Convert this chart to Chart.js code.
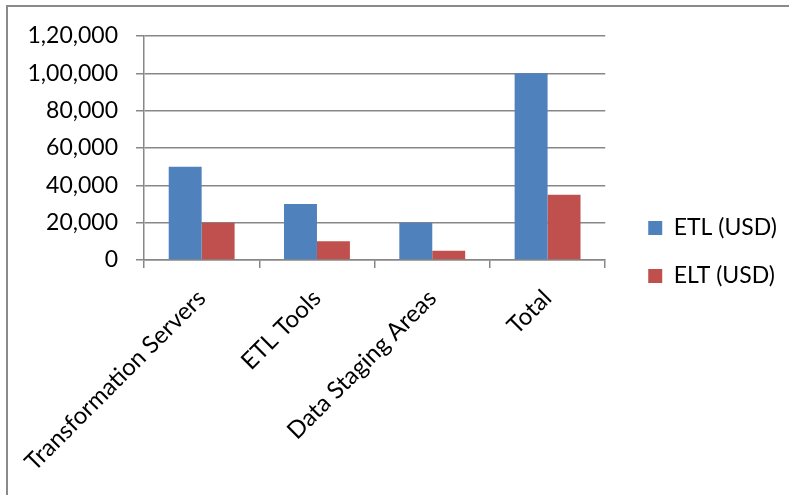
<!DOCTYPE html>
<html>
<head>
<meta charset="utf-8">
<script src="https://cdn.jsdelivr.net/npm/chart.js@4/dist/chart.umd.min.js"></script>
<style>
    html, body { margin: 0; padding: 0; background: #fff; overflow: hidden; }
    #wrap { position: relative; width: 789px; height: 495px; }
    #frame {
        position: absolute; left: 6px; top: 5px; right: -4px; bottom: -4px;
        border-left: 2px solid #8a8a8a; border-top: 2px solid #8a8a8a;
        pointer-events: none;
    }
    canvas { position: absolute; left: 0; top: 0; }
</style>
</head>
<body>
<div id="wrap">
    <canvas id="costChart" width="789" height="495"></canvas>
    <div id="frame"></div>
</div>
<script>
// --- Data ---
const categories = ['Transformation Servers', 'ETL Tools', 'Data Staging Areas', 'Total'];
const etlCost = [50000, 30000, 20000, 100000];
const eltCost = [20000, 10000, 5000, 35000];
const yTicks = { min: 0, max: 120000, step: 20000 };

// Colours (Office 2007 palette)
const COLORS = {
    blue: '#4f81bd',
    red: '#c0504d',
    axis: '#878787',
    text: '#000000'
};

Chart.defaults.font.family = "Lato, 'Open Sans', sans-serif";
Chart.defaults.font.size = 23;
Chart.defaults.color = COLORS.text;

// Indian digit grouping: 1,20,000
function fmtIN(n) {
    const s = String(Math.round(n));
    if (s.length <= 3) return s;
    const last3 = s.slice(-3);
    const rest = s.slice(0, -3).replace(/\B(?=(\d{2})+(?!\d))/g, ',');
    return rest + ',' + last3;
}

// Push the legend a little away from the plot (and stop it clipping its text)
const legendNudge = {
    id: 'legendNudge',
    afterLayout(chart, args, opts) {
        const lg = chart.legend;
        if (!lg) return;
        lg.left += opts.dx;
        lg.right = chart.width;
    }
};

new Chart(document.getElementById('costChart'), {
    type: 'bar',
    data: {
        labels: categories,
        datasets: [
            {
                label: 'ETL (USD)',
                data: etlCost,
                backgroundColor: COLORS.blue,
                borderWidth: 0,
                categoryPercentage: 2 / 3.5,
                barPercentage: 1
            },
            {
                label: 'ELT (USD)',
                data: eltCost,
                backgroundColor: COLORS.red,
                borderWidth: 0,
                categoryPercentage: 2 / 3.5,
                barPercentage: 1
            }
        ]
    },
    plugins: [legendNudge],
    options: {
        responsive: false,
        animation: false,
        layout: { padding: { left: 0, top: 36, right: 20, bottom: 27 } },
        plugins: {
            tooltip: { enabled: false },
            legendNudge: { dx: 18 },
            legend: {
                position: 'right',
                labels: {
                    boxWidth: 14,
                    boxHeight: 14,
                    padding: 25,
                    font: { size: 23 }
                }
            }
        },
        scales: {
            x: {
                grid: {
                    offset: true,
                    drawOnChartArea: false,
                    drawTicks: true,
                    tickLength: 8,
                    color: COLORS.axis,
                    lineWidth: 1.5
                },
                border: { color: COLORS.axis, width: 1.5 },
                ticks: {
                    minRotation: 45, maxRotation: 45, autoSkip: false,
                    padding: 16, labelOffset: 0,
                    font: { size: 24 }
                },
                afterFit: s => {
                    s.height = 208;
                    // long rotated labels may hang past the plot edges
                    s.paddingLeft = 0;
                    s.paddingRight = 0;
                }
            },
            y: {
                min: yTicks.min,
                max: yTicks.max,
                ticks: { stepSize: yTicks.step, padding: 18, callback: v => fmtIN(v) },
                grid: { color: COLORS.axis, lineWidth: 1.5, tickLength: 8 },
                border: { color: COLORS.axis, width: 1.5 },
                afterFit: s => { s.width = 144; }
            }
        }
    }
});
</script>
</body>
</html>
